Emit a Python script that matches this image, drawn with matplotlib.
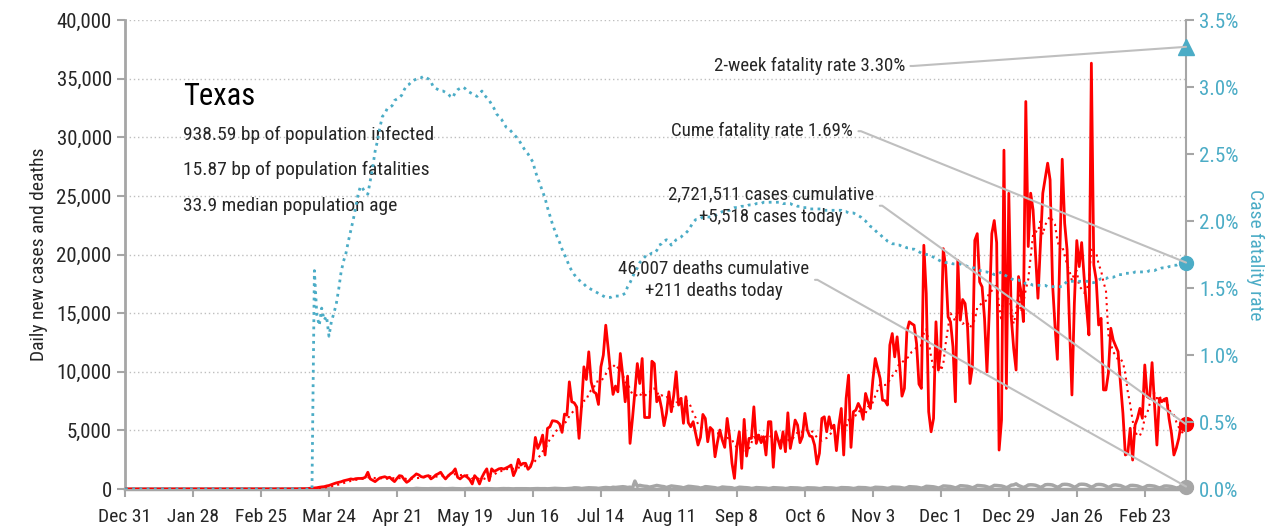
import matplotlib
matplotlib.use("Agg")
import matplotlib.dates as mdates
import matplotlib.pyplot as plt
import matplotlib.ticker as mticker
import numpy as np
import pandas as pd
from matplotlib import font_manager

available = {f.name for f in font_manager.fontManager.ttflist}
FONT = "DejaVu Sans"
for name in ["Roboto Condensed", "Archivo Narrow", "PT Sans Narrow", "Liberation Sans Narrow"]:
    if name in available:
        FONT = name
        break
plt.rcParams["font.family"] = [FONT, "DejaVu Sans"]

RED = "#FF0000"
TEAL = "#4BACC6"
GRAY = "#A6A6A6"
LINE_GRAY = "#BFBFBF"
TEXT = "#262626"

START_DATE = "2019-12-31"
END_DATE = "2021-03-12"

# daily new cases, Dec 31 2019 .. Mar 12 2021
daily_cases = [0] * 70 + [
    5, 10, 15, 20, 25, 40, 60, 70,
    90, 110, 150, 180, 200, 260,
    300, 380, 450, 520, 570, 620,
    700, 750, 800, 860, 820, 880,
    900, 900, 920, 1000, 1430, 860,
    750, 630, 800, 950, 1000, 1050,
    950, 1000, 800, 630, 900, 1140,
    1100, 800, 570, 700, 940, 1100,
    1290, 1200, 1050, 1000, 1100, 1140,
    860, 1000, 1200, 1300, 1430, 1100,
    860, 1100, 1290, 1430, 1720, 1000,
    860, 1050, 1140, 1000, 800, 430,
    1140, 900, 430, 1000, 1400, 1720,
    715, 1720, 1500, 1600, 1720, 1760,
    1700, 1800, 1900, 2040, 1140, 1620,
    2530, 2040, 2190, 2190, 1680, 1900,
    2500, 4400, 3460, 3900, 4600, 2900,
    5170, 5310, 5820, 5800, 5740, 5540,
    4830, 6390, 6300, 9140, 7440, 7350,
    7010, 4320, 7000, 10420, 9340, 11700,
    9140, 8290, 8150, 7210, 10420, 11420,
    13970, 11980, 9850, 8070, 8780, 8290,
    11560, 9710, 7440, 9630, 3890, 6000,
    8290, 10700, 9000, 11130, 6100, 6100,
    6100, 10900, 10700, 7440, 7870, 6870,
    5400, 6450, 8290, 6590, 8000, 10000,
    7160, 7720, 5600, 7870, 5650, 5310,
    5740, 4740, 3750, 4400, 6360, 6020,
    4030, 5250, 5030, 2750, 4000, 5030,
    4170, 3550, 6020, 4500, 2190, 910,
    3610, 4880, 1760, 5940, 2810, 4320,
    4320, 7010, 3890, 4600, 3950, 4460,
    2900, 5740, 5740, 1850, 4880, 4170,
    3460, 4880, 3180, 6500, 3460, 4520,
    5880, 5450, 3950, 4460, 6450, 5030,
    4520, 4460, 3750, 2130, 3040, 6020,
    6160, 4880, 6160, 5170, 5450, 3270,
    5450, 6870, 2900, 7720, 9710, 3550,
    6590, 6730, 7300, 6870, 5940, 8150,
    7440, 6870, 9290, 11130, 10280, 9430,
    7580, 7530, 7160, 12270, 13260, 11270,
    12980, 10700, 7920, 8580, 13400, 14260,
    14100, 13970, 12410, 8950, 8580, 20790,
    16670, 6590, 4880, 6020, 14260, 10140,
    12130, 20500, 18940, 14680, 14260, 12130,
    7440, 19510, 14400, 16160, 15820, 13830,
    9000, 10420, 21210, 21780, 17660, 17240,
    14540, 10000, 15390, 21780, 22900, 21000,
    3320, 5880, 28900, 8580, 25230, 14700,
    12000, 10150, 18120, 16840, 14280, 33050,
    20680, 25230, 23800, 20000, 16270, 20680,
    25230, 26500, 27790, 26370, 17550, 14000,
    11060, 20000, 28130, 22670, 20390, 14000,
    8020, 15840, 21190, 18970, 21020, 18120,
    15500, 13140, 36320, 19110, 17830, 13990,
    14560, 8450, 8450, 9870, 13710, 12710,
    12200, 11720, 9000, 6460, 2900, 3040,
    5180, 2470, 5460, 6030, 6880, 6030,
    10580, 7880, 7740, 10780, 7310, 3750,
    7740, 7450, 7650, 7740, 6000, 4750,
    2900, 3500, 4320, 5600, 5600, 5518,
]

# daily deaths, Dec 31 2019 .. Mar 12 2021
daily_deaths = [0] * 78 + [
    1, 0, 2, 1, 2, 3, 4,
    4, 6, 7, 5, 9, 10, 12,
    14, 17, 15, 19, 22, 20, 13,
    25, 29, 22, 27, 28, 16, 19,
    31, 35, 30, 26, 22, 14, 20,
    26, 40, 30, 29, 18, 14, 25,
    50, 35, 28, 26, 21, 19, 33,
    30, 36, 29, 34, 25, 18, 24,
    36, 44, 30, 27, 20, 10, 24,
    31, 37, 25, 21, 18, 8, 22,
    30, 33, 25, 23, 16, 6, 20,
    29, 35, 27, 30, 17, 10, 25,
    27, 38, 32, 24, 21, 12, 25,
    30, 35, 26, 32, 29, 14, 30,
    40, 56, 47, 45, 25, 18, 35,
    55, 60, 100, 95, 80, 40, 65,
    87, 105, 98, 99, 80, 50, 80,
    110, 129, 110, 95, 150, 130, 150,
    174, 197, 174, 130, 160, 80, 675,
    230, 313, 268, 238, 220, 160, 200,
    250, 305, 264, 226, 200, 125, 190,
    260, 236, 220, 180, 150, 95, 160,
    230, 215, 190, 160, 140, 80, 120,
    200, 185, 160, 140, 110, 55, 90,
    170, 150, 130, 120, 100, 40, 80,
    150, 140, 120, 110, 90, 45, 70,
    120, 110, 100, 95, 75, 40, 65,
    115, 105, 90, 85, 70, 35, 60,
    110, 100, 95, 90, 70, 35, 60,
    105, 100, 95, 85, 65, 35, 60,
    110, 105, 100, 90, 70, 40, 70,
    120, 115, 110, 100, 75, 40, 70,
    130, 125, 120, 110, 80, 45, 80,
    150, 140, 135, 120, 90, 50, 90,
    170, 160, 155, 140, 100, 60, 110,
    200, 190, 175, 160, 120, 70, 130,
    230, 220, 200, 185, 140, 80, 150,
    260, 250, 230, 210, 160, 90, 170,
    280, 270, 250, 230, 175, 100, 180,
    300, 290, 270, 250, 190, 110, 190,
    310, 300, 280, 260, 200, 110, 200,
    330, 350, 440, 300, 220, 130, 210,
    340, 360, 350, 320, 240, 140, 220,
    360, 380, 370, 340, 250, 150, 230,
    380, 400, 390, 350, 260, 150, 240,
    390, 410, 400, 360, 260, 160, 240,
    370, 390, 380, 340, 250, 140, 220,
    330, 350, 320, 290, 200, 110, 180,
    300, 310, 290, 260, 180, 100, 160,
    280, 290, 270, 240, 170, 90, 150,
    250, 260, 240, 210, 150, 80, 130,
    230, 240, 211,
]

# case fatality rate in percent, Dec 31 2019 .. Mar 12 2021
fatality_rate = [0.0] * 78 + [
    1.63, 1.30, 1.22, 1.35, 1.26, 1.29, 1.14, 1.25, 1.31, 1.38,
    1.49, 1.62, 1.70, 1.76, 1.85, 1.93, 2.01, 2.10, 2.20, 2.26,
    2.24, 2.21, 2.20, 2.30, 2.40, 2.52, 2.60, 2.70, 2.78, 2.80,
    2.84, 2.85, 2.86, 2.90, 2.91, 2.92, 2.94, 2.98, 3.01, 3.02,
    3.04, 3.05, 3.06, 3.07, 3.07, 3.08, 3.07, 3.06, 3.04, 3.00,
    2.99, 2.98, 2.97, 2.97, 2.96, 2.95, 2.93, 2.92, 2.96, 2.98,
    2.99, 3.00, 2.99, 2.97, 2.96, 2.95, 2.94, 2.93, 2.95, 2.97,
    2.94, 2.92, 2.90, 2.87, 2.84, 2.80, 2.78, 2.76, 2.73, 2.70,
    2.69, 2.67, 2.65, 2.63, 2.61, 2.58, 2.55, 2.52, 2.50, 2.47,
    2.44, 2.37, 2.32, 2.27, 2.22, 2.17, 2.10, 2.04, 1.98, 1.93,
    1.88, 1.84, 1.79, 1.75, 1.71, 1.66, 1.63, 1.60, 1.58, 1.56,
    1.54, 1.53, 1.51, 1.50, 1.49, 1.48, 1.47, 1.46, 1.45, 1.44,
    1.43, 1.43, 1.43, 1.44, 1.44, 1.44, 1.44, 1.45, 1.46, 1.51,
    1.54, 1.58, 1.62, 1.65, 1.69, 1.71, 1.73, 1.75, 1.75, 1.76,
    1.76, 1.78, 1.82, 1.83, 1.85, 1.86, 1.85, 1.82, 1.84, 1.86,
    1.87, 1.88, 1.90, 1.91, 1.93, 1.96, 1.99, 2.01, 2.01, 2.02,
    2.03, 2.03, 2.03, 2.03, 2.03, 2.04, 2.05, 2.06, 2.07, 2.07,
    2.08, 2.08, 2.09, 2.10, 2.10, 2.10, 2.11, 2.11, 2.11, 2.12,
    2.12, 2.12, 2.13, 2.13, 2.13, 2.14, 2.14, 2.14, 2.14, 2.14,
    2.14, 2.14, 2.14, 2.13, 2.13, 2.13, 2.13, 2.12, 2.12, 2.11,
    2.11, 2.10, 2.10, 2.10, 2.09, 2.09, 2.09, 2.09, 2.09, 2.09,
    2.08, 2.08, 2.08, 2.08, 2.08, 2.08, 2.08, 2.08, 2.07, 2.07,
    2.06, 2.06, 2.06, 2.05, 2.04, 2.03, 2.01, 2.00, 1.98, 1.96,
    1.95, 1.93, 1.91, 1.90, 1.88, 1.87, 1.85, 1.84, 1.83, 1.83,
    1.82, 1.82, 1.81, 1.81, 1.80, 1.80, 1.79, 1.79, 1.78, 1.77,
    1.76, 1.76, 1.75, 1.75, 1.74, 1.73, 1.72, 1.71, 1.70, 1.70,
    1.69, 1.69, 1.69, 1.68, 1.68, 1.68, 1.68, 1.67, 1.67, 1.66,
    1.65, 1.65, 1.65, 1.64, 1.63, 1.63, 1.62, 1.62, 1.61, 1.61,
    1.60, 1.60, 1.61, 1.62, 1.60, 1.59, 1.58, 1.57, 1.56, 1.56,
    1.56, 1.55, 1.55, 1.53, 1.53, 1.53, 1.52, 1.52, 1.52, 1.52,
    1.52, 1.52, 1.51, 1.51, 1.51, 1.51, 1.51, 1.51, 1.51, 1.53,
    1.55, 1.55, 1.55, 1.55, 1.55, 1.55, 1.55, 1.55, 1.55, 1.55,
    1.54, 1.54, 1.55, 1.56, 1.57, 1.57, 1.57, 1.58, 1.58, 1.58,
    1.59, 1.60, 1.60, 1.60, 1.61, 1.61, 1.61, 1.61, 1.62, 1.62,
    1.62, 1.62, 1.62, 1.62, 1.63, 1.63, 1.63, 1.64, 1.64, 1.65,
    1.65, 1.65, 1.66, 1.66, 1.67, 1.67, 1.68, 1.68, 1.69, 1.69,
]

two_week_rate = 3.30
cume_rate = 1.69
total_cases = "2,721,511"
total_deaths = "46,007"

info_lines = [
    "938.59 bp of population infected",
    "15.87 bp of population fatalities",
    "33.9 median population age",
]


def main():
    dates = pd.date_range(START_DATE, END_DATE, freq="D")
    df = pd.DataFrame(
        {"cases": daily_cases, "deaths": daily_deaths, "cfr": fatality_rate},
        index=dates,
    )
    df["cases_avg"] = df["cases"].rolling(7, min_periods=1).mean()
    x = mdates.date2num(df.index.to_pydatetime())
    last = x[-1]

    fig = plt.figure(figsize=(12.73, 5.27), dpi=100)
    ax = fig.add_axes([0.0982, 0.0721, 0.8335, 0.8899])
    ax2 = ax.twinx()

    ax.plot(x, df["cases"], color=RED, lw=2, zorder=3)
    ax.plot(x, df["cases_avg"], color=RED, lw=1.5, ls=(0, (1, 2)), zorder=3)
    ax.plot(x, df["deaths"], color=GRAY, lw=2.5, zorder=2)
    ax2.plot(x, df["cfr"], color=TEAL, lw=2, ls=(0, (1, 1.6)), zorder=3)

    ax.plot([last], [df["cases"].iloc[-1]], "o", color=RED, ms=10, zorder=5, clip_on=False)
    ax.plot([last], [df["deaths"].iloc[-1]], "o", color=GRAY, ms=10, zorder=5, clip_on=False)
    ax2.plot([last], [cume_rate], "o", color=TEAL, ms=10, zorder=5, clip_on=False)
    ax2.plot([last], [two_week_rate], "^", color=TEAL, ms=11, zorder=5, clip_on=False)

    ax.set_xlim(x[0], last)
    ax.set_ylim(0, 40000)
    ax2.set_ylim(0, 3.5)

    ticks = pd.date_range(START_DATE, periods=16, freq="28D")
    ax.set_xticks(mdates.date2num(ticks.to_pydatetime()))
    ax.set_xticklabels([f"{t:%b} {t.day}" for t in ticks])
    ax.yaxis.set_major_locator(mticker.MultipleLocator(5000))
    ax.yaxis.set_major_formatter(mticker.StrMethodFormatter("{x:,.0f}"))
    ax2.yaxis.set_major_locator(mticker.MultipleLocator(0.5))
    ax2.yaxis.set_major_formatter(mticker.StrMethodFormatter("{x:.1f}%"))

    ax.yaxis.grid(True, color=LINE_GRAY, lw=1, ls=(0, (1, 2)))
    ax.set_axisbelow(True)

    for a in (ax, ax2):
        a.spines["top"].set_visible(False)
    ax.spines["right"].set_visible(False)
    ax2.spines["left"].set_visible(False)
    ax2.spines["bottom"].set_visible(False)
    ax.spines["left"].set_color(GRAY)
    ax.spines["left"].set_linewidth(2)
    ax.spines["bottom"].set_color(GRAY)
    ax.spines["bottom"].set_linewidth(2.5)
    ax2.spines["right"].set_color(GRAY)
    ax2.spines["right"].set_linewidth(1.5)

    ax.tick_params(axis="both", colors=GRAY, length=6, width=1.5, labelcolor=TEXT)
    ax.tick_params(axis="y", labelsize=15)
    ax.tick_params(axis="x", labelsize=14, pad=8)
    ax2.tick_params(axis="y", colors=GRAY, length=6, width=1.5, labelsize=15,
                    labelcolor=TEAL)

    ax.set_ylabel("Daily new cases and deaths", fontsize=14, color=TEXT, labelpad=6)
    ax2.set_ylabel("Case fatality rate", fontsize=14, color=TEAL, rotation=270, labelpad=18)

    ax.text(0.0547, 0.836, "Texas", transform=ax.transAxes, fontsize=22,
            color="black", va="center", ha="left")
    for ypos, line in zip([0.755, 0.680, 0.603], info_lines):
        ax.text(0.0547, ypos, line, transform=ax.transAxes, fontsize=14,
                color=TEXT, va="center", ha="left")

    arrow = dict(arrowstyle="-", color=LINE_GRAY, lw=1.5, shrinkA=2, shrinkB=0,
                 relpos=(1, 0.5),
                 connectionstyle="arc,angleA=0,armA=8,angleB=0,armB=0,rad=0")

    ax2.annotate(f"2-week fatality rate {two_week_rate:.2f}%",
                 xy=(last, two_week_rate), xytext=(0.735, 0.902),
                 textcoords="axes fraction", ha="right", va="center",
                 fontsize=13.6, color=TEXT, arrowprops=arrow, zorder=6)
    ax2.annotate(f"Cume fatality rate {cume_rate:.2f}%",
                 xy=(last, cume_rate), xytext=(0.686, 0.763),
                 textcoords="axes fraction", ha="right", va="center",
                 fontsize=13.6, color=TEXT, arrowprops=arrow, zorder=6)
    ax2.annotate(f"{total_cases} cases cumulative\n+{daily_cases[-1]:,} cases today",
                 xy=(last, daily_cases[-1]), xycoords=ax.transData,
                 xytext=(0.609, 0.604), textcoords="axes fraction",
                 ha="center", va="center", multialignment="center",
                 fontsize=13.6, color=TEXT, linespacing=1.3,
                 arrowprops=arrow, zorder=6)
    ax2.annotate(f"{total_deaths} deaths cumulative\n+{daily_deaths[-1]} deaths today",
                 xy=(last, daily_deaths[-1]), xycoords=ax.transData,
                 xytext=(0.555, 0.446), textcoords="axes fraction",
                 ha="center", va="center", multialignment="center",
                 fontsize=13.6, color=TEXT, linespacing=1.3,
                 arrowprops=arrow, zorder=6)

    fig.savefig("out.png", dpi=100)
    plt.close(fig)


if __name__ == "__main__":
    main()
